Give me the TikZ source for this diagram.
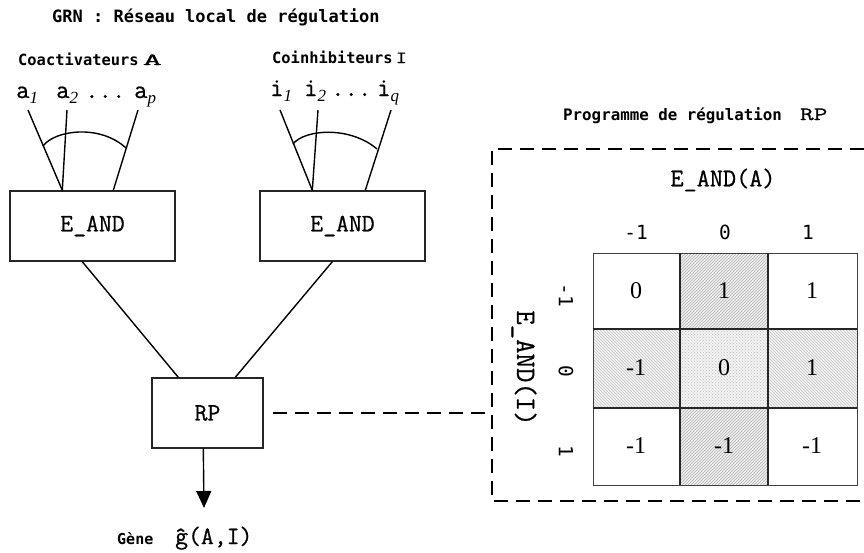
\documentclass[tikz,border=0pt]{standalone}
\usepackage{fontspec}
\setmainfont{Liberation Serif}
\newfontfamily\dmono{DejaVu Sans Mono}
\newfontfamily\ttheavy{Latin Modern Mono}[FakeBold=0.7]
\usetikzlibrary{arrows.meta,patterns,calc}
\newcommand\lowsub[1]{\raisebox{-0.45ex}{\fontsize{17}{17}\selectfont\rmfamily\itshape #1}}
\newcommand\wideletter[2]{\scalebox{#1}[1]{#2}}
\tikzset{
  fbox/.style={draw=black!85,line width=1.4pt,fill=white,inner sep=0pt},
  eandbox/.style={fbox,minimum width=165pt,minimum height=70pt,font=\ttheavy\fontsize{25}{25}\selectfont},
  rpbox/.style={fbox,minimum width=111pt,minimum height=70pt,font=\ttheavy\fontsize{25}{25}\selectfont},
  lbl/.style={font=\dmono\bfseries\fontsize{17}{17}\selectfont,inner sep=0pt},
  sublbl/.style={lbl,font=\dmono\bfseries\fontsize{15.4}{15.4}\selectfont},
  letter/.style={font=\ttheavy\fontsize{26}{26}\selectfont,inner sep=0pt,anchor=base west},
  wire/.style={line width=1.4pt},
  dashline/.style={line width=1.8pt,dash pattern=on 14pt off 8pt},
  cellval/.style={font=\fontsize{24}{24}\selectfont},
  hdr/.style={font=\dmono\fontsize{19.5}{19.5}\selectfont},
}
\begin{document}
\begin{tikzpicture}[x=1pt,y=-1pt]
\useasboundingbox (0,0) rectangle (864,552);

% titles and labels
\node[lbl,anchor=west] (title) at (52,17) {GRN : Réseau local de régulation};
\node[sublbl,anchor=base west] (coact) at (18,65) {Coactivateurs\hspace{4pt}{\mdseries\ttheavy\fontsize{17}{17}\selectfont\wideletter{2.2}{A}}};
\node[sublbl,anchor=base west] (coinh) at (272,63) {Coinhibiteurs\hspace{3pt}{\mdseries\ttheavy\fontsize{17}{17}\selectfont\wideletter{1.3}{I}}};

% input names
\node[letter] (la1) at (16,98) {a\lowsub{1}};
\node[letter] (la2) at (56,98) {a\lowsub{2}};
\node[letter] (ldotsa) at (85,98) {...};
\node[letter] (lap) at (134,98) {a\lowsub{p}};
\node[letter] (li1) at (270,96) {i\lowsub{1}};
\node[letter] (li2) at (304,96) {i\lowsub{2}};
\node[letter] (ldotsi) at (331,96) {...};
\node[letter] (liq) at (377,96) {i\lowsub{q}};

% logic boxes
\node[eandbox] (ea) at (92.5,226) {E\_AND\hspace{12pt}};
\node[eandbox] (ei) at (342.5,226) {E\_AND\hspace{9pt}};
\node[rpbox] (rp) at (207.5,413) {RP\hspace{2pt}};

% activator inputs
\coordinate (a1) at (28,110);
\coordinate (a2) at (67,110);
\coordinate (ap) at (138,110);
\draw[wire] (a1) -- ($(ea.north west)+(53,0)$);
\draw[wire] (a2) -- ($(ea.north west)+(53,0)$);
\draw[wire] (ap) -- ($(ea.north west)+(104,0)$);
\draw[wire] (43,146) .. controls (55,130) and (100,124) .. (126,148);

% inhibitor inputs
\coordinate (i1) at (280,110);
\coordinate (i2) at (318,110);
\coordinate (iq) at (391,110);
\draw[wire] (i1) -- ($(ei.north west)+(53,0)$);
\draw[wire] (i2) -- ($(ei.north west)+(53,0)$);
\draw[wire] (iq) -- ($(ei.north west)+(106,0)$);
\draw[wire] (293,144) .. controls (305,129) and (350,126) .. (377,149);

% to the regulation program
\draw[wire] ($(ea.south west)+(73,0)$) -- ($(rp.north west)+(27,0)$);
\draw[wire] ($(ei.south west)+(73,0)$) -- ($(rp.north west)+(84,0)$);

% output gene
\coordinate (gout) at (204,508);
\draw[wire,-{Triangle[length=17pt,width=15pt]}] ($(rp.south west)+(52,0)$) -- (gout);
\node[lbl,font=\dmono\bfseries\fontsize{15}{15}\selectfont,anchor=base west] (gene) at (117,544) {Gène};
\node[anchor=base west,inner sep=0pt,font=\ttheavy\fontsize{25}{25}\selectfont] (ghat) at (175,544) {ĝ(A,I)};

% regulation program table
\node[sublbl,font=\dmono\bfseries\fontsize{15.8}{15.8}\selectfont,anchor=base west] (prog) at (563,120) {Programme de régulation\hspace{18pt}{\mdseries\ttheavy\fontsize{19}{19}\selectfont\wideletter{1.4}{RP}}};
\coordinate (bx) at (492,413);
\draw[dashline] (864,149) -- (492,149) -- (492,501) -- (864,501);
\draw[dashline,shorten <=9pt] (rp.east) -- (bx);

\node[font=\ttheavy\fontsize{25.5}{25.5}\selectfont] (eandA) at (723,180) {E\_AND(A)};
\node[hdr] (cA) at (636,232) {-1};
\node[hdr] (cB) at (725,232) {0};
\node[hdr] (cC) at (808,232) {1};
\node[font=\ttheavy\fontsize{28}{28}\selectfont,rotate=-90] (eandI) at (524,368) {E\_AND(I)};
\node[hdr,rotate=-90] (rA) at (566,295) {-1};
\node[hdr,rotate=-90] (rB) at (566,371) {0};
\node[hdr,rotate=-90] (rC) at (566,451) {1};

% shaded cells
\fill[gray!12] (680,253) rectangle (768,329);
\fill[gray!12] (680,408) rectangle (768,485);
\fill[gray!10] (593,329) rectangle (680,408);
\fill[gray!10] (768,329) rectangle (857,408);
\fill[gray!10] (680,329) rectangle (768,408);
\fill[pattern=north east lines,pattern color=gray!60] (680,253) rectangle (768,329);
\fill[pattern=north east lines,pattern color=gray!60] (680,408) rectangle (768,485);
\fill[pattern=north west lines,pattern color=gray!45] (593,329) rectangle (680,408);
\fill[pattern=north west lines,pattern color=gray!45] (768,329) rectangle (857,408);
\fill[pattern=crosshatch dots,pattern color=gray!50] (680,329) rectangle (768,408);

% grid
\draw[line width=1pt,black!75] (593,253) rectangle (857,485);
\draw[line width=1.3pt,black!85] (680,253) -- (680,485) (768,253) -- (768,485)
  (593,329) -- (857,329) (593,408) -- (857,408);

% cell values
\node[cellval] (v11) at (636,291) {0};
\node[cellval] (v12) at (724,291) {1};
\node[cellval] (v13) at (812,291) {1};
\node[cellval] (v21) at (636,368) {-1};
\node[cellval] (v22) at (724,368) {0};
\node[cellval] (v23) at (812,368) {1};
\node[cellval] (v31) at (636,446) {-1};
\node[cellval] (v32) at (724,446) {-1};
\node[cellval] (v33) at (812,446) {-1};
\end{tikzpicture}
\end{document}
